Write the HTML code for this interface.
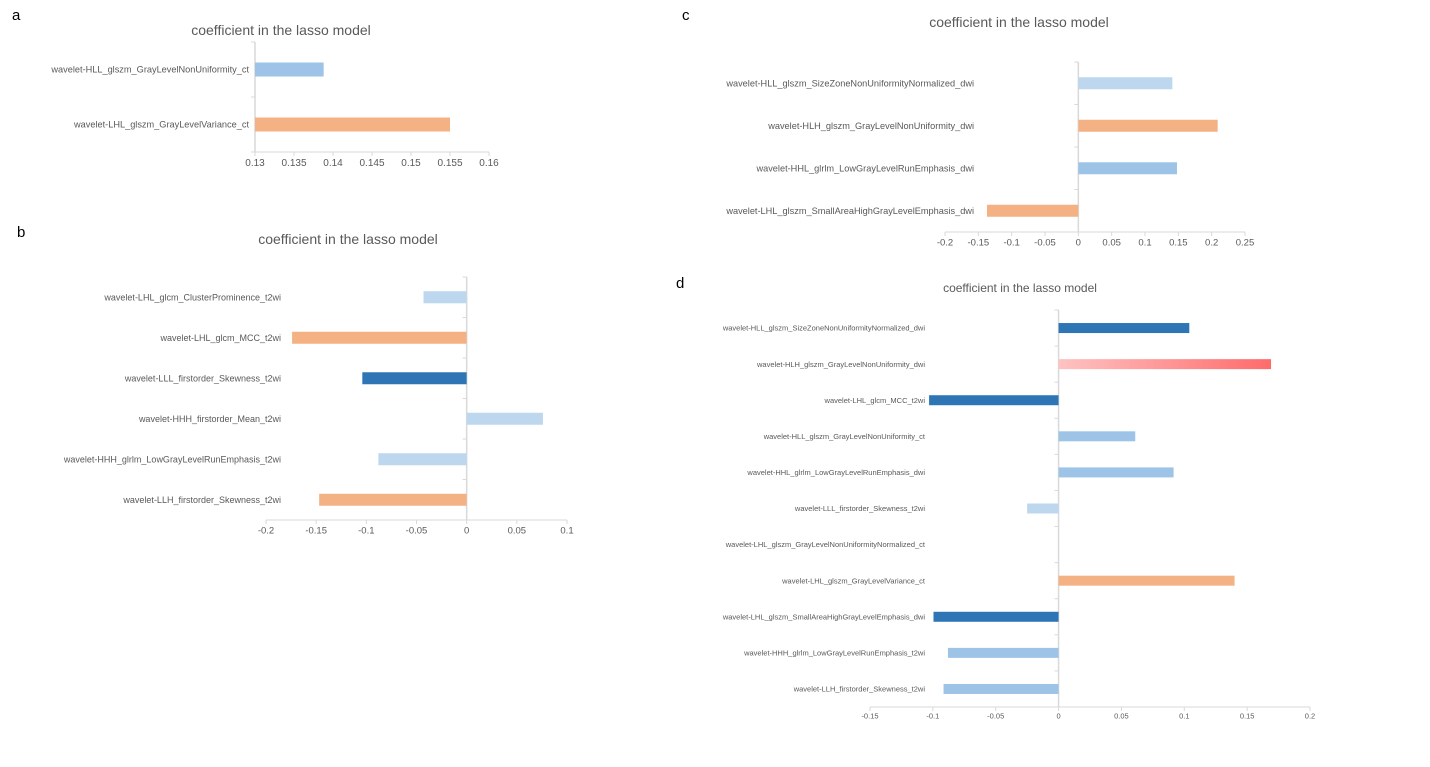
<!DOCTYPE html>
<html><head><meta charset="utf-8">
<style>
html,body{margin:0;padding:0;background:#fff;}
svg{display:block;font-family:"Liberation Sans",sans-serif;}
</style></head>
<body>
<svg id="fig" width="1430" height="767" viewBox="0 0 1430 767" xmlns="http://www.w3.org/2000/svg">
<defs>
<linearGradient id="pinkGrad" x1="0" x2="1" y1="0" y2="0">
<stop offset="0" stop-color="#ffc2c2"/><stop offset="1" stop-color="#ff6b6b"/>
</linearGradient>
</defs>
</svg>
<script>
// ---- Panel a data
const catsA = ["wavelet-HLL_glszm_GrayLevelNonUniformity_ct","wavelet-LHL_glszm_GrayLevelVariance_ct"];
const valsA = [0.1388, 0.155];
const colsA = ["#9dc3e6","#f4b183"];
const ticksA = [0.13,0.135,0.14,0.145,0.15,0.155,0.16];
const tickLabelsA = ["0.13","0.135","0.14","0.145","0.15","0.155","0.16"];
// ---- Panel b data
const catsB = ["wavelet-LHL_glcm_ClusterProminence_t2wi","wavelet-LHL_glcm_MCC_t2wi","wavelet-LLL_firstorder_Skewness_t2wi","wavelet-HHH_firstorder_Mean_t2wi","wavelet-HHH_glrlm_LowGrayLevelRunEmphasis_t2wi","wavelet-LLH_firstorder_Skewness_t2wi"];
const valsB = [-0.043,-0.174,-0.104,0.076,-0.088,-0.147];
const colsB = ["#bdd7ee","#f4b183","#2e75b6","#bdd7ee","#bdd7ee","#f4b183"];
const ticksB = [-0.2,-0.15,-0.1,-0.05,0,0.05,0.1];
const tickLabelsB = ["-0.2","-0.15","-0.1","-0.05","0","0.05","0.1"];
// ---- Panel c data
const catsC = ["wavelet-HLL_glszm_SizeZoneNonUniformityNormalized_dwi","wavelet-HLH_glszm_GrayLevelNonUniformity_dwi","wavelet-HHL_glrlm_LowGrayLevelRunEmphasis_dwi","wavelet-LHL_glszm_SmallAreaHighGrayLevelEmphasis_dwi"];
const valsC = [0.141,0.209,0.148,-0.137];
const colsC = ["#bdd7ee","#f4b183","#9dc3e6","#f4b183"];
const ticksC = [-0.2,-0.15,-0.1,-0.05,0,0.05,0.1,0.15,0.2,0.25];
const tickLabelsC = ["-0.2","-0.15","-0.1","-0.05","0","0.05","0.1","0.15","0.2","0.25"];
// ---- Panel d data
const catsD = ["wavelet-HLL_glszm_SizeZoneNonUniformityNormalized_dwi","wavelet-HLH_glszm_GrayLevelNonUniformity_dwi","wavelet-LHL_glcm_MCC_t2wi","wavelet-HLL_glszm_GrayLevelNonUniformity_ct","wavelet-HHL_glrlm_LowGrayLevelRunEmphasis_dwi","wavelet-LLL_firstorder_Skewness_t2wi","wavelet-LHL_glszm_GrayLevelNonUniformityNormalized_ct","wavelet-LHL_glszm_GrayLevelVariance_ct","wavelet-LHL_glszm_SmallAreaHighGrayLevelEmphasis_dwi","wavelet-HHH_glrlm_LowGrayLevelRunEmphasis_t2wi","wavelet-LLH_firstorder_Skewness_t2wi"];
const valsD = [0.104,0.169,-0.103,0.061,0.0915,-0.025,0,0.140,-0.0995,-0.088,-0.0915];
const colsD = ["#2e75b6","url(#pinkGrad)","#2e75b6","#9dc3e6","#9dc3e6","#bdd7ee","none","#f4b183","#2e75b6","#9dc3e6","#9dc3e6"];
const ticksD = [-0.15,-0.1,-0.05,0,0.05,0.1,0.15,0.2];
const tickLabelsD = ["-0.15","-0.1","-0.05","0","0.05","0.1","0.15","0.2"];

const NS="http://www.w3.org/2000/svg";
const svg=document.getElementById('fig');
function mk(tag,attrs,parent){const e=document.createElementNS(NS,tag);for(const k in attrs)e.setAttribute(k,attrs[k]);(parent||svg).appendChild(e);return e;}

function panel(cfg){
  const g=mk('g',{});
  
  
  const xs=v=>cfg.x0+(v-cfg.d0)/(cfg.d1-cfg.d0)*(cfg.x1-cfg.x0);
  const n=cfg.cats.length, band=(cfg.bot-cfg.top)/n;
  const lt=mk('text',{x:cfg.lx,y:cfg.ly,'font-size':15,fill:'#000'},g);lt.textContent=cfg.id;
  
  
  const t=mk('text',{x:cfg.tx,y:cfg.ty,'font-size':cfg.tfs,fill:'#595959','text-anchor':'middle'},g);t.textContent="coefficient in the lasso model";
  
  
  const ax=mk('line',{x1:cfg.x0,x2:cfg.x1,y1:cfg.bot,y2:cfg.bot,stroke:'#d9d9d9','stroke-width':1},g);
  
  
  cfg.ticks.forEach((v,i)=>{
    const x=xs(v);
    mk('line',{x1:x,x2:x,y1:cfg.bot,y2:cfg.bot+4,stroke:'#d9d9d9'},g);
    const tl=mk('text',{x:x,y:cfg.bot+cfg.tkfs+4,'font-size':cfg.tkfs,fill:'#595959','text-anchor':'middle'},g);
    tl.textContent=cfg.tickLabels[i];
    
    
  });
  const zx=xs(cfg.base);
  const ya=mk('line',{x1:zx,x2:zx,y1:cfg.top,y2:cfg.bot,stroke:'#d9d9d9','stroke-width':1.5},g);
  
  
  for(let i=0;i<=n;i++){mk('line',{x1:zx-4,x2:zx,y1:cfg.top+i*band,y2:cfg.top+i*band,stroke:'#d9d9d9'},g);}
  cfg.cats.forEach((c,i)=>{
    const cy=cfg.top+band*(i+0.5);
    const lb=mk('text',{x:cfg.labX,y:cy+cfg.fs*0.35,'font-size':cfg.fs,fill:'#595959','text-anchor':'end'},g);
    lb.textContent=c;
    
    
    const v=cfg.vals[i];
    const x1=xs(Math.min(v,cfg.base)),x2=xs(Math.max(v,cfg.base));
    if(cfg.cols[i]!=='none'&&x2>x1){
      const r=mk('rect',{x:x1,y:cy-cfg.bh/2,width:x2-x1,height:cfg.bh,fill:cfg.cols[i]},g);
      
      
    }
  });
}
panel({id:'a',cats:catsA,vals:valsA,cols:colsA,ticks:ticksA,tickLabels:tickLabelsA,d0:0.13,d1:0.16,x0:255,x1:489,base:0.13,top:42,bot:152,bh:14,fs:9.2,tkfs:10,labX:249,tx:281,ty:35,tfs:14,lx:12,ly:20});
panel({id:'b',cats:catsB,vals:valsB,cols:colsB,ticks:ticksB,tickLabels:tickLabelsB,d0:-0.2,d1:0.1,x0:266,x1:567,base:0,top:277,bot:520,bh:12,fs:9,tkfs:9.5,labX:281,tx:348,ty:244,tfs:14,lx:17,ly:237});
panel({id:'c',cats:catsC,vals:valsC,cols:colsC,ticks:ticksC,tickLabels:tickLabelsC,d0:-0.2,d1:0.25,x0:945,x1:1245,base:0,top:62,bot:232,bh:12,fs:9.2,tkfs:9.5,labX:974,tx:1019,ty:27,tfs:14,lx:682,ly:20});
panel({id:'d',cats:catsD,vals:valsD,cols:colsD,ticks:ticksD,tickLabels:tickLabelsD,d0:-0.15,d1:0.2,x0:870,x1:1310,base:0,top:310,bot:707,bh:10,fs:7.5,tkfs:7.5,labX:925,tx:1020,ty:292,tfs:12,lx:676,ly:288});
</script>
</body></html>
